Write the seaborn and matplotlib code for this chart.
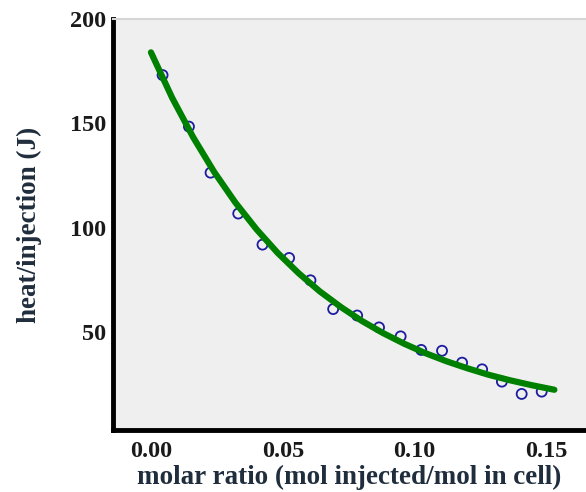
import matplotlib
matplotlib.use("Agg")
import matplotlib.pyplot as plt
import seaborn as sns
import pandas as pd
from matplotlib.ticker import MultipleLocator

# Data
molar_ratio = [0.0044, 0.0144, 0.0226, 0.0331, 0.0423, 0.0524, 0.0605, 0.0691, 0.0782,
               0.0865, 0.0947, 0.1025, 0.1104, 0.1180, 0.1256, 0.1331, 0.1406, 0.1482]
heat = [173.1, 148.4, 126.3, 106.7, 91.8, 85.4, 74.7, 60.9, 57.8,
        52.1, 47.8, 41.3, 40.9, 35.2, 32.0, 26.1, 20.2, 21.3]

# fitted curve
fit_x = [0.000, 0.008, 0.016, 0.024, 0.032, 0.040, 0.048, 0.056, 0.064, 0.072,
         0.080, 0.088, 0.096, 0.104, 0.112, 0.120, 0.128, 0.136, 0.144, 0.153]
fit_y = [184.0, 162.3, 143.3, 126.6, 112.0, 99.2, 87.9, 78.1, 69.4, 61.9,
         55.2, 49.4, 44.3, 39.8, 35.9, 32.5, 29.4, 26.8, 24.5, 22.2]

x_ticks = [0.00, 0.05, 0.10, 0.15]
x_tick_labels = ["0.00", "0.05", "0.10", "0.15"]
y_ticks = [50, 100, 150, 200]
y_tick_labels = ["50", "100", "150", "200"]

pts = pd.DataFrame({"x": molar_ratio, "y": heat})
fit = pd.DataFrame({"x": fit_x, "y": fit_y})

sns.set_style("white")
plt.rcParams["font.family"] = ["Liberation Serif", "DejaVu Serif"]

fig = plt.figure(figsize=(5.86, 4.92), dpi=100)
ax = fig.add_axes([113 / 586, 1 - 430 / 492, 1 - 113 / 586, (430 - 19) / 492])
ax.set_facecolor("#efefef")

sns.lineplot(data=fit, x="x", y="y", ax=ax, color="#008000", linewidth=4.5,
             sort=True, zorder=3)
sns.scatterplot(data=pts, x="x", y="y", ax=ax, marker="o", s=52,
                facecolor="none", edgecolor="#1c1ca0", linewidth=1.3, zorder=2)

ax.set_xlim(-0.0144, 0.165)
ax.set_ylim(2.9, 200)

ax.set_xticks(x_ticks)
ax.set_xticklabels(x_tick_labels)
ax.set_yticks(y_ticks)
ax.set_yticklabels(y_tick_labels)
ax.xaxis.set_minor_locator(MultipleLocator(0.01))
ax.yaxis.set_minor_locator(MultipleLocator(10))

ax.tick_params(axis="both", which="major", direction="in", length=12, width=2,
               color="black", labelsize=17.5)
ax.tick_params(axis="y", which="major", pad=5)
ax.tick_params(axis="x", which="major", pad=8)
ax.tick_params(axis="both", which="minor", direction="in", length=8, width=2,
               color="black")
for lab in ax.get_xticklabels() + ax.get_yticklabels():
    lab.set_fontweight("bold")
    lab.set_color("#1a1a1a")

for side in ["left", "bottom"]:
    ax.spines[side].set_visible(True)
    ax.spines[side].set_linewidth(3.5)
    ax.spines[side].set_color("black")
ax.spines["top"].set_color("#d6d6d6")
ax.spines["top"].set_linewidth(1.5)
ax.spines["right"].set_visible(False)

ax.set_xlabel("molar ratio (mol injected/mol in cell)", fontsize=19.5,
              fontweight="bold", color="#1f2d3d", labelpad=2)
ax.set_ylabel("heat/injection (J)", fontsize=19.5, fontweight="bold",
              color="#1f2d3d", labelpad=20)
ax.grid(False)

fig.savefig("out.png", dpi=100, facecolor="white")
